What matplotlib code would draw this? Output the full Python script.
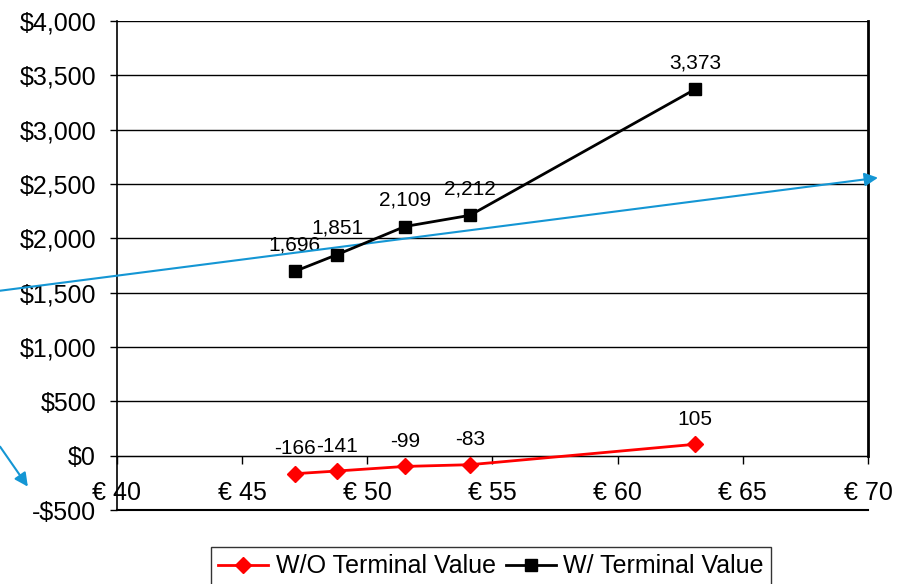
import matplotlib
matplotlib.use("Agg")
import matplotlib.pyplot as plt
from matplotlib.ticker import FuncFormatter

plt.rcParams['font.family'] = ['Liberation Sans', 'DejaVu Sans']

# share price (EUR) vs. value
price = [47.1, 48.8, 51.5, 54.1, 63.1]
wo_terminal = [-166, -141, -99, -83, 105]
w_terminal = [1696, 1851, 2109, 2212, 3373]

x_ticks = [40, 45, 50, 55, 60, 65, 70]
y_ticks = list(range(-500, 4001, 500))

# trend arrows
trend_start = (35.33, 1518)
trend_end = (70.4, 2558)
small_start = (35.33, 83)
small_end = (36.44, -285)

fig = plt.figure(figsize=(9.04, 5.84), dpi=100)
ax = fig.add_axes([0.1294, 0.1267, 0.8308, 0.8373])

ax.set_xlim(40, 70)
ax.set_ylim(-500, 4000)
ax.set_xticks(x_ticks)
ax.set_yticks(y_ticks)
ax.xaxis.set_major_formatter(FuncFormatter(lambda v, p: f"€ {v:.0f}"))
ax.yaxis.set_major_formatter(FuncFormatter(
    lambda v, p: f"-${abs(v):,.0f}" if v < 0 else f"${v:,.0f}"))

ax.grid(axis='y', color='black', linewidth=1)
ax.set_axisbelow(True)
for s in ['top', 'right']:
    ax.spines[s].set_visible(False)
ax.spines['bottom'].set_position(('data', 0))
ax.spines['left'].set_linewidth(1.2)
ax.axvline(70, ymin=500 / 4500, ymax=1, color='black', linewidth=2, clip_on=False)
ax.axhline(-500, color='black', linewidth=1.5, clip_on=False)

ax.tick_params(axis='x', direction='out', length=6, width=1, pad=12, labelsize=18)
ax.tick_params(axis='y', direction='out', length=5, width=1, pad=10, labelsize=18)

ax.plot(price, wo_terminal, color='red', linewidth=2, marker='D', markersize=8,
        label='W/O Terminal Value', zorder=4)
ax.plot(price, w_terminal, color='black', linewidth=2, marker='s', markersize=9,
        label='W/ Terminal Value', zorder=4)

for x, y in zip(price, wo_terminal):
    ax.annotate(f"{y:,}", (x, y), xytext=(0, 11), textcoords='offset points',
                ha='center', va='bottom', fontsize=15)
for x, y in zip(price, w_terminal):
    ax.annotate(f"{y:,}", (x, y), xytext=(0, 12), textcoords='offset points',
                ha='center', va='bottom', fontsize=15)

blue = '#1496D4'
ax.annotate('', xy=trend_end, xytext=trend_start, annotation_clip=False,
            arrowprops=dict(arrowstyle='-|>', color=blue, lw=1.5, mutation_scale=20,
                            shrinkA=0, shrinkB=0))
ax.annotate('', xy=small_end, xytext=small_start, annotation_clip=False,
            arrowprops=dict(arrowstyle='-|>', color=blue, lw=1.5, mutation_scale=20,
                            shrinkA=0, shrinkB=0))

leg = fig.legend(loc='upper center', bbox_to_anchor=(0.543, 0.0634), ncol=2,
                 fontsize=18, frameon=True, fancybox=False, edgecolor='black',
                 handlelength=2.0, handletextpad=0.3, columnspacing=0.4,
                 borderpad=0.3, borderaxespad=0)
leg.get_frame().set_linewidth(1)

fig.savefig('out.png', dpi=100)
